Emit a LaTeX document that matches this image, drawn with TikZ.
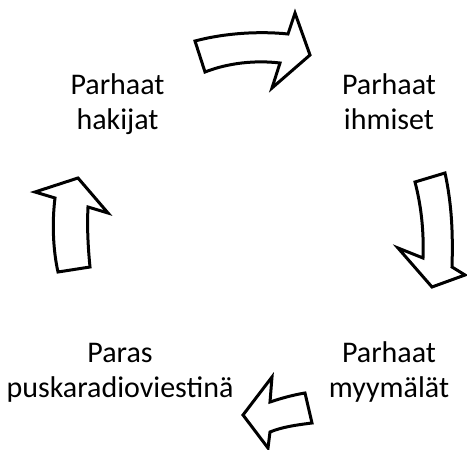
\documentclass[tikz,border=0pt]{standalone}
\usepackage{fontspec}
\setmainfont{Carlito}
\newcommand{\twolines}[2]{\begin{tabular}[b]{@{}c@{}}#1\\#2\end{tabular}}
\begin{document}
\begin{tikzpicture}[x=1pt,y=-1pt,
  lbl/.style={font=\fontsize{30}{35}\selectfont,inner sep=0pt,anchor=base},
  arr/.style={draw=black,fill=white,line width=3pt,line join=miter}]
\useasboundingbox (0,0) rectangle (467,450);
\node[lbl] (hak) at (117.5,129) {\twolines{Parhaat}{hakijat}};
\node[lbl] (ihm) at (389,129) {\twolines{Parhaat}{ihmiset}};
\node[lbl] (myy) at (389,397) {\twolines{Parhaat}{myymälät}};
\node[lbl] (pus) at (120,397) {\twolines{Paras}{puskaradioviestinä}};
% top arrow
\draw[arr] (195,41) .. controls (225,33) and (260,31) .. (288,34)
  -- (295,13) -- (310,55) -- (272,88) -- (280,63)
  .. controls (255,60) and (228,63) .. (205,72) -- cycle;
% right arrow
\draw[arr] (415,182) -- (445,173) .. controls (452,205) and (453,235) .. (452,267)
  -- (465,275) -- (432,287) -- (398,248) -- (423,258)
  .. controls (424,230) and (421,205) .. (415,182) -- cycle;
% bottom arrow
\draw[arr] (305,393) -- (312,423) .. controls (296,425) and (282,427) .. (270,432)
  -- (268,448) -- (243,415) -- (272,377) -- (270,402)
  .. controls (282,398) and (293,395) .. (305,393) -- cycle;
% left arrow
\draw[arr] (58,272) -- (90,267) .. controls (88,247) and (87,227) .. (88,207)
  -- (108,213) -- (78,178) -- (35,192) -- (55,198)
  .. controls (52,222) and (53,250) .. (58,272) -- cycle;
\end{tikzpicture}
\end{document}
